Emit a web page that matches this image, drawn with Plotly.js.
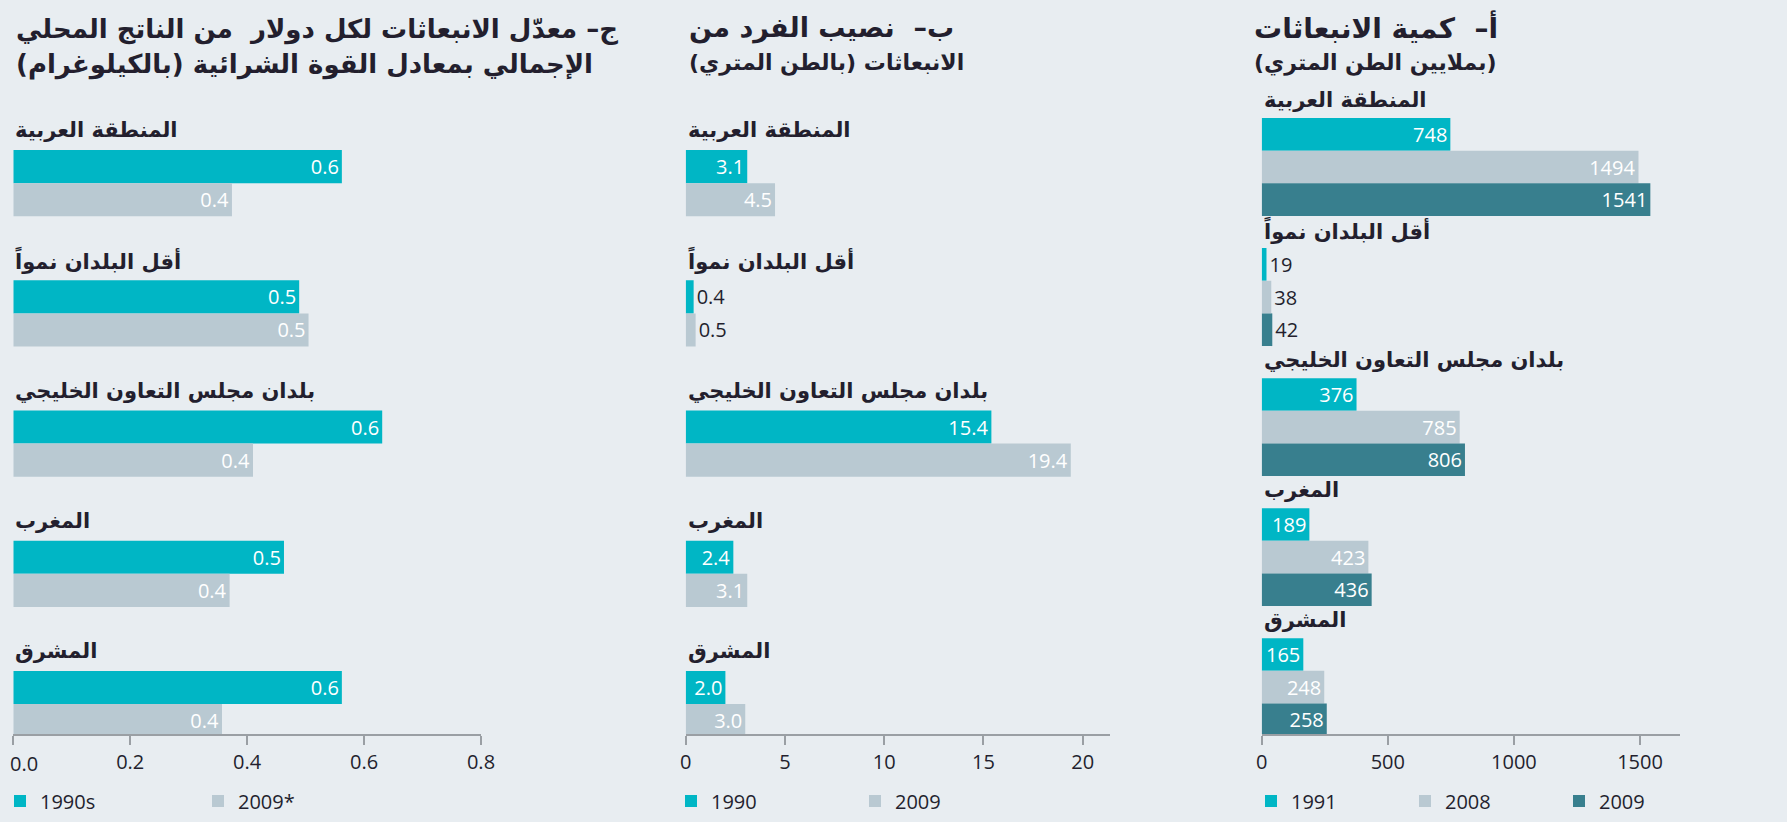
<!DOCTYPE html>
<html>
<head>
<meta charset="utf-8">
<script src="https://cdn.plot.ly/plotly-3.0.1.min.js"></script>
<style>html,body{margin:0;padding:0;background:#e8edf1;}#chart{width:1787px;height:822px;}</style>
</head>
<body>
<div id="chart"></div>
<script>
// ---- data ----
const categories = ['المنطقة العربية', 'أقل البلدان نمواً', 'بلدان مجلس التعاون الخليجي', 'المغرب', 'المشرق'];

// Panel ج: emissions per dollar of GDP (PPP), kg
const intensity1990s = [0.562, 0.489, 0.631, 0.463, 0.562];
const intensity2009 = [0.374, 0.505, 0.410, 0.370, 0.357];

// Panel ب: per-capita emissions, metric tonnes
const perCapita1990 = [3.1, 0.4, 15.4, 2.4, 2.0];
const perCapita2009 = [4.5, 0.5, 19.4, 3.1, 3.0];

// Panel أ: total emissions, million metric tonnes
const total1991 = [748, 19, 376, 189, 165];
const total2008 = [1494, 38, 785, 423, 248];
const total2009 = [1541, 42, 806, 436, 258];

const ticksC = [0, 0.2, 0.4, 0.6, 0.8];
const ticksB = [0, 5, 10, 15, 20];
const ticksA = [0, 500, 1000, 1500];

const titleC = ['ج– معدّل الانبعاثات لكل دولار  من الناتج المحلي', 'الإجمالي بمعادل القوة الشرائية (بالكيلوغرام)'];
const titleB = ['ب–  نصيب الفرد من', 'الانبعاثات (بالطن المتري)'];
const titleA = ['أ–  كمية الانبعاثات', '(بملايين الطن المتري)'];

const namesC = ['1990s', '2009*'];
const namesB = ['1990', '2009'];
const namesA = ['1991', '2008', '2009'];

// ---- style ----
const W = 1787, H = 822;
const CYAN = '#00b6c5', GREY = '#b9c9d2', TEAL = '#387f8e';
const BG = '#e8edf1';
const DARK = '#231f2e';
const numFont = 'Open Sans, sans-serif';
const arFont = 'DejaVu Sans, sans-serif';
const px = v => v / W;
const py = v => (H - v) / H;

function bar(x, name, color, xa, ya, legend, width, offset, fmt) {
  return {
    type: 'bar', orientation: 'h', y: categories, x: x, name: name,
    xaxis: xa, yaxis: ya, legend: legend,
    width: width, offset: offset,
    marker: {color: color, line: {width: 0}},
    texttemplate: fmt, textposition: 'auto', constraintext: 'none',
    insidetextanchor: 'end',
    insidetextfont: {family: numFont, size: 20, color: '#ffffff'},
    outsidetextfont: {family: numFont, size: 20, color: DARK},
    hoverinfo: 'x+name', cliponaxis: false
  };
}

const traces = [
  bar(intensity1990s, namesC[0], CYAN, 'x', 'y', 'legend', 0.254, -0.254, '%{x:.1f}'),
  bar(intensity2009, namesC[1], GREY, 'x', 'y', 'legend', 0.254, 0, '%{x:.1f}'),
  bar(perCapita1990, namesB[0], CYAN, 'x2', 'y2', 'legend2', 0.254, -0.254, '%{x:.1f}'),
  bar(perCapita2009, namesB[1], GREY, 'x2', 'y2', 'legend2', 0.254, 0, '%{x:.1f}'),
  bar(total1991, namesA[0], CYAN, 'x3', 'y3', 'legend3', 0.251, -0.3765, '%{x}'),
  bar(total2008, namesA[1], GREY, 'x3', 'y3', 'legend3', 0.251, -0.1255, '%{x}'),
  bar(total2009, namesA[2], TEAL, 'x3', 'y3', 'legend3', 0.251, 0.1255, '%{x}')
];

function xaxis(domain, range, ticks, text) {
  return {
    domain: domain, range: range, tickmode: 'array', tickvals: ticks, ticktext: text,
    showgrid: false, zeroline: false, showline: true, linecolor: '#9a9fa4', linewidth: 2,
    ticks: 'outside', ticklen: 9, tickwidth: 2, tickcolor: '#9a9fa4',
    tickfont: {family: numFont, size: 20, color: DARK}, fixedrange: true
  };
}
function yaxis(anchor, range) {
  return {
    domain: [py(734), py(95)], range: range, type: 'category', categoryorder: 'array',
    categoryarray: categories, anchor: anchor,
    showticklabels: false, showgrid: false, zeroline: false, showline: false, ticks: '', fixedrange: true
  };
}

// the "0.0" label of the left panel is drawn as an annotation so it can sit inside the page edge
const tickTextC = ticksC.map((v, i) => i === 0 ? '' : v.toFixed(1));
const tickTextB = ticksB.map(String);
const tickTextA = ticksA.map(String);

const annotations = [{
  xref: 'x', yref: 'paper', x: ticksC[0], y: py(763), xanchor: 'left', yanchor: 'middle', xshift: -5,
  text: ticksC[0].toFixed(1), showarrow: false, font: {family: numFont, size: 20, color: DARK}
}];
function catLabels(xa, ya, shift) {
  categories.forEach(c => annotations.push({
    xref: xa, yref: ya, x: 0, y: c, xanchor: 'left', yanchor: 'middle', yshift: shift,
    text: c, showarrow: false, font: {family: arFont, size: 21, color: DARK, weight: 'bold'}
  }));
}
catLabels('x', 'y', 53);
catLabels('x2', 'y2', 53);
catLabels('x3', 'y3', 67);

function titleLines(lines, x, ys, sizes) {
  lines.forEach((t, i) => annotations.push({
    xref: 'paper', yref: 'paper', x: px(x), y: py(ys[i]), xanchor: 'left', yanchor: 'middle',
    text: t, showarrow: false, font: {family: arFont, size: sizes[i], color: DARK, weight: 'bold'}
  }));
}
titleLines(titleC, 14, [29, 65], [26, 26]);
titleLines(titleB, 687, [28, 63], [27, 22]);
titleLines(titleA, 1252, [27, 63], [28, 22]);

function legend(x, entry) {
  return {
    orientation: 'h', x: px(x), y: py(801), xanchor: 'left', yanchor: 'middle',
    bgcolor: 'rgba(0,0,0,0)', borderwidth: 0, entrywidth: entry, entrywidthmode: 'pixels',
    font: {family: numFont, size: 20, color: DARK}, traceorder: 'normal', itemclick: false
  };
}

const layout = {
  width: W, height: H,
  margin: {l: 0, r: 0, t: 0, b: 0, autoexpand: false},
  paper_bgcolor: BG, plot_bgcolor: BG,
  barmode: 'overlay',
  showlegend: true,
  xaxis: xaxis([px(13.3), px(481)], [0, 0.8], ticksC, tickTextC),
  xaxis2: xaxis([px(685.7), px(1110)], [0, 21.375], ticksB, tickTextB),
  xaxis3: xaxis([px(1261.7), px(1680)], [0, 1658.6], ticksA, tickTextA),
  yaxis: yaxis('x', [4.23, -0.677]),
  yaxis2: yaxis('x2', [4.23, -0.677]),
  yaxis3: yaxis('x3', [4.36, -0.554]),
  legend: legend(0, 153),
  legend2: legend(671, 139),
  legend3: legend(1251, 109),
  annotations: annotations
};

Plotly.newPlot('chart', traces, layout, {displayModeBar: false});
</script>
</body>
</html>
